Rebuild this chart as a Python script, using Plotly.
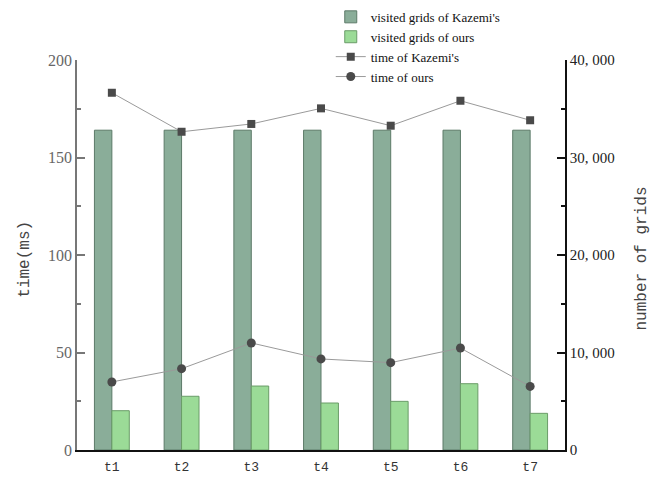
import plotly.graph_objects as go

# Test cases
cases = ["t1", "t2", "t3", "t4", "t5", "t6", "t7"]

# Number of visited grids (right axis)
grids_kazemi = [32800, 32800, 32800, 32800, 32800, 32800, 32800]
grids_ours = [4030, 5510, 6560, 4820, 4990, 6800, 3760]

# Running time in ms (left axis)
time_kazemi = [183.2, 163.2, 167.2, 175.2, 166.3, 179.1, 169.1]
time_ours = [34.9, 41.7, 54.9, 46.7, 44.8, 52.3, 32.6]

# Axis ticks
time_ticks = [0, 50, 100, 150, 200]
grid_ticks = [0, 10000, 20000, 30000, 40000]
grid_tick_text = ["0", "10, 000", "20, 000", "30, 000", "40, 000"]

fig = go.Figure()

fig.add_trace(go.Bar(
    x=cases, y=grids_kazemi, name="visited grids of Kazemi's",
    marker=dict(color="#8aad99", line=dict(color="#5c7a68", width=1)),
    yaxis="y",
))
fig.add_trace(go.Bar(
    x=cases, y=grids_ours, name="visited grids of ours",
    marker=dict(color="#9bdb97", line=dict(color="#6a9c68", width=1)),
    yaxis="y",
))
fig.add_trace(go.Scatter(
    x=cases, y=time_kazemi, name="time of Kazemi's", mode="lines+markers",
    line=dict(color="#9a9a9a", width=1),
    marker=dict(symbol="square", size=8, color="#4a4a4a"),
    yaxis="y2",
))
fig.add_trace(go.Scatter(
    x=cases, y=time_ours, name="time of ours", mode="lines+markers",
    line=dict(color="#9a9a9a", width=1),
    marker=dict(symbol="circle", size=9, color="#4a4a4a"),
    yaxis="y2",
))

fig.update_layout(
    width=650, height=477,
    margin=dict(l=77, r=85, t=60, b=27, autoexpand=False),
    paper_bgcolor="white", plot_bgcolor="white",
    barmode="group", bargap=0.5, bargroupgap=0,
    showlegend=True,
    legend=dict(
        x=0.52, y=1.149, xanchor="left", yanchor="top",
        font=dict(family="Liberation Serif", size=13, color="#111"),
        bgcolor="rgba(0,0,0,0)", itemwidth=30, tracegroupgap=0,
    ),
    xaxis=dict(
        range=[-0.5, 6.5], showline=True, linecolor="#111", linewidth=2,
        ticks="", showgrid=False, zeroline=False, ticklabelstandoff=3,
        tickfont=dict(family="Liberation Mono", size=13, color="#333"),
    ),
    # grids axis on the right
    yaxis=dict(
        side="right", range=[0, 40000], showline=True, linecolor="#111", linewidth=1.5,
        ticks="inside", ticklen=8, tickwidth=1.5, tickcolor="#111",
        tickvals=grid_ticks, ticktext=grid_tick_text,
        minor=dict(ticks="inside", ticklen=4, tickwidth=1.5, tickcolor="#111", dtick=5000),
        showgrid=False, zeroline=False,
        tickfont=dict(family="Liberation Serif", size=15, color="#222"),
    ),
    # time axis on the left, drawn on top of the bars
    yaxis2=dict(
        side="left", overlaying="y", range=[0, 200], showline=True,
        linecolor="#777", linewidth=1.5,
        ticks="inside", ticklen=8, tickwidth=1.5, tickcolor="#777",
        tickvals=time_ticks,
        minor=dict(ticks="inside", ticklen=4, tickwidth=1.5, tickcolor="#777", dtick=25),
        showgrid=False, zeroline=False,
        tickfont=dict(family="Liberation Serif", size=16, color="#666"),
    ),
    annotations=[
        dict(text="time(ms)", x=-0.107, y=0.49, xref="paper", yref="paper",
             textangle=-90, showarrow=False, xanchor="center", yanchor="middle",
             font=dict(family="Liberation Mono", size=16, color="#444")),
        dict(text="number of grids", x=1.157, y=0.49, xref="paper", yref="paper",
             textangle=-90, showarrow=False, xanchor="center", yanchor="middle",
             font=dict(family="Liberation Mono", size=16, color="#444")),
    ],
)

fig.write_html("out.html")
